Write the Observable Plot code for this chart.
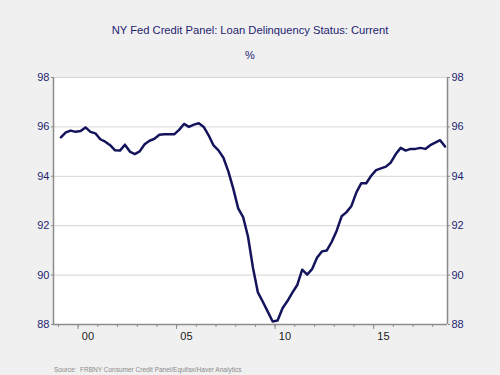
<!DOCTYPE html>
<html>
<head>
<meta charset="utf-8">
<script src="https://cdn.jsdelivr.net/npm/d3@7"></script>
<script src="https://cdn.jsdelivr.net/npm/@observablehq/plot@0.6"></script>
<style>
  html, body { margin: 0; padding: 0; background: #f0f0f0; }
  #wrap { width: 500px; height: 375px; background: #f0f0f0; font-family: "Liberation Sans", Arial, sans-serif; overflow: hidden; }
  .title { box-sizing: border-box; height: 40px; padding-top: 20px; line-height: 20px; text-align: center; font-size: 11.2px; color: #1e1e70; }
  .unit { height: 30px; line-height: 30px; text-align: center; font-size: 11px; color: #1e1e70; }
  .caption { box-sizing: border-box; height: 15px; padding-top: 5px; line-height: 10px; padding-left: 54px; font-size: 6.5px; color: #8a8a8a; }
  svg { display: block; }
</style>
</head>
<body>
<div id="wrap">
  <div class="title">NY Fed Credit Panel: Loan Delinquency Status: Current</div>
  <div class="unit">%</div>
  <div id="chart"></div>
  <div class="caption">Source:&nbsp; FRBNY Consumer Credit Panel/Equifax/Haver Analytics</div>
</div>
<script>
// Quarterly values, 1999Q1 .. 2018Q3 (percent of balances current)
const startYear = 1999;
const values = [
  95.58, 95.78, 95.85, 95.80,   // 1999
  95.83, 95.98, 95.80, 95.74,   // 2000
  95.50, 95.40, 95.26, 95.05,   // 2001
  95.04, 95.28, 95.00, 94.90,   // 2002
  95.01, 95.30, 95.44, 95.52,   // 2003
  95.68, 95.70, 95.70, 95.70,   // 2004
  95.88, 96.12, 96.00, 96.09,   // 2005
  96.15, 96.00, 95.66, 95.25,   // 2006
  95.05, 94.75, 94.20, 93.50,   // 2007
  92.70, 92.35, 91.55, 90.30,   // 2008
  89.30, 88.92, 88.52, 88.12,   // 2009
  88.16, 88.66, 88.95, 89.29,   // 2010
  89.60, 90.22, 90.02, 90.24,   // 2011
  90.70, 90.96, 91.00, 91.35,   // 2012
  91.80, 92.38, 92.55, 92.80,   // 2013
  93.35, 93.72, 93.72, 94.02,   // 2014
  94.25, 94.32, 94.39, 94.56,   // 2015
  94.90, 95.15, 95.04, 95.11,   // 2016
  95.11, 95.15, 95.11, 95.26,   // 2017
  95.36, 95.46, 95.21           // 2018
];
const yTicks = [88, 90, 92, 94, 96, 98];
const yGrid = [90, 92, 94, 96, 98];
const xLabelYears = [2000, 2005, 2010, 2015];
const xLabels = ["00", "05", "10", "15"];
const minorYears = [1999, 2000, 2001, 2002, 2003, 2004, 2005, 2006, 2007, 2008, 2009,
                    2010, 2011, 2012, 2013, 2014, 2015, 2016, 2017, 2018];
const xDomain = [1998.75, 2018.75];
const yDomain = [88, 98];

// table: quarter midpoints in fractional years
const data = values.map((v, i) => ({
  t: startYear + Math.floor(i / 4) + ((i % 4) + 0.5) / 4,
  v
}));

const navy = "#1e1e70";
const axisGrey = "#8c8c8c";

const chart = Plot.plot({
  width: 500,
  height: 290,
  marginTop: 7,
  marginBottom: 36,
  marginLeft: 53,
  marginRight: 53,
  style: { fontFamily: "'Liberation Sans', Arial, sans-serif", fontSize: "11px", background: "transparent", overflow: "visible" },
  x: { domain: xDomain, axis: null, label: null },
  y: { domain: yDomain, axis: null, label: null },
  marks: [
    Plot.frame({ fill: "white", stroke: "none" }),
    Plot.ruleY(yGrid, { stroke: "#d6d6d6", strokeWidth: 1 }),
    Plot.ruleX(xDomain, { stroke: axisGrey, strokeWidth: 1.5 }),
    Plot.ruleY([yDomain[0]], { stroke: axisGrey, strokeWidth: 1.5 }),
    Plot.axisY({ anchor: "left", label: null, ticks: yTicks, tickSize: 2, tickPadding: 2, tickFormat: d => String(d), color: navy, stroke: axisGrey }),
    Plot.axisY({ anchor: "right", label: null, ticks: yTicks, tickSize: 2, tickPadding: 2, tickFormat: d => String(d), color: navy, stroke: axisGrey }),
    Plot.axisX({ anchor: "bottom", label: null, ticks: minorYears, tickSize: 3, tickFormat: () => "", stroke: axisGrey }),
    Plot.axisX({ anchor: "bottom", label: null, ticks: xLabelYears, tickSize: 5, tickFormat: () => "", stroke: axisGrey }),
    Plot.axisX({ anchor: "bottom", label: null, ticks: xLabelYears.map(y => y + 0.5), tickSize: 0, tickPadding: 8,
                 tickFormat: d => xLabels[xLabelYears.indexOf(d - 0.5)], color: "#222222" }),
    Plot.line(data, { x: "t", y: "v", stroke: "#14145c", strokeWidth: 2.5, curve: "linear" })
  ]
});
document.getElementById("chart").appendChild(chart);
</script>
</body>
</html>
